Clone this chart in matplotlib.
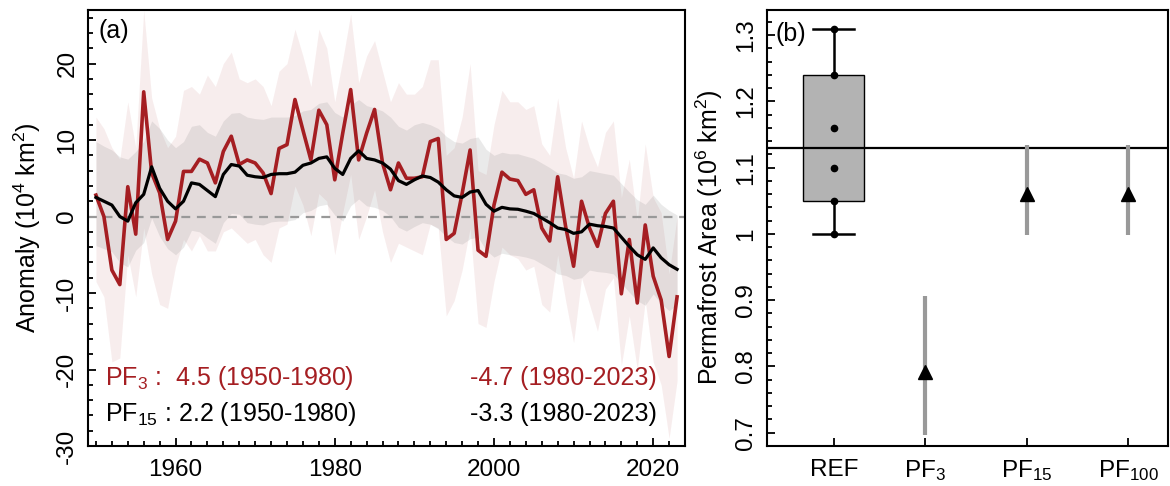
"""Permafrost area anomaly (a) and permafrost area comparison (b)"""
import numpy as np
import matplotlib
matplotlib.use('Agg')
import matplotlib.pyplot as plt
from matplotlib.ticker import MultipleLocator, FormatStrFormatter

plt.rcParams['font.family'] = ['Liberation Sans', 'DejaVu Sans']
plt.rcParams['mathtext.fontset'] = 'custom'
plt.rcParams['mathtext.rm'] = 'Liberation Sans'
plt.rcParams['mathtext.it'] = 'Liberation Sans:italic'
plt.rcParams['mathtext.bf'] = 'Liberation Sans:bold'
plt.rcParams['axes.unicode_minus'] = False

# ---- panel (a) data, 1950-2023 ----
years = np.arange(1950, 2024)

pf3 = [2.8, 0.0, -7.0, -8.9, 3.9, -2.3, 16.3, 5.7, 3.1, -3.0,
       -0.6, 5.9, 5.9, 7.5, 7.0, 4.4, 8.5, 10.5, 6.8, 7.4,
       7.0, 5.7, 3.0, 8.9, 9.4, 15.3, 11.3, 7.4, 13.9, 12.0,
       4.8, 10.9, 16.6, 7.4, 10.9, 14.0, 7.0, 3.5, 7.0, 5.0,
       5.0, 5.2, 9.8, 10.2, -3.0, -2.2, 3.0, 8.7, -4.4, -5.2,
       1.5, 5.8, 4.9, 4.7, 2.9, 3.5, -1.5, -3.2, 5.2, -1.3,
       -6.5, 2.0, -1.5, -3.9, 0.4, 2.0, -10.1, -3.0, -11.3, -1.1,
       -7.8, -10.9, -18.3, -10.5]

pf3_hi = [13.0, 11.5, 9.0, 7.5, 15.0, 9.0, 27.0, 15.5, 11.5, 9.0,
          10.5, 16.5, 17.0, 16.0, 18.5, 17.0, 20.0, 21.5, 18.0, 17.5,
          18.0, 17.0, 14.5, 19.0, 20.0, 24.5, 21.0, 17.0, 24.5, 22.0,
          15.0, 20.5, 26.5, 17.5, 21.0, 23.0, 19.0, 15.0, 17.5, 16.0,
          16.0, 17.0, 20.5, 20.5, 8.0, 9.0, 13.0, 20.0, 6.0, 5.5,
          12.0, 16.5, 15.0, 15.0, 14.0, 14.5, 9.5, 8.0, 15.5, 9.0,
          5.0, 12.5, 9.0, 6.5, 11.0, 12.5, 2.5, 7.5, -0.5, 9.5,
          2.5, 0.5, -7.5, 0.0]

pf3_lo = [-8.5, -10.5, -19.0, -18.5, -5.0, -10.5, -1.5, -7.5, -11.5, -12.0,
          -6.5, -3.0, -4.5, -2.5, -4.5, -4.5, -2.0, -1.5, -2.5, -3.5,
          -3.0, -5.0, -6.0, -1.5, -1.0, 4.0, 1.5, -2.5, 3.0, 2.0,
          -5.0, 0.5, 5.5, -3.0, 0.0, 3.5, -2.0, -6.0, -3.5, -4.0,
          -4.5, -5.0, -1.0, -1.5, -13.0, -11.0, -7.0, -1.5, -14.0, -14.5,
          -8.5, -4.0, -5.0, -5.5, -7.0, -6.5, -11.5, -12.5, -5.0, -11.0,
          -16.5, -8.0, -11.5, -15.0, -9.5, -8.0, -19.5, -13.0, -20.0, -11.0,
          -19.0, -22.0, -29.0, -21.5]

pf15 = [2.5, 2.0, 1.5, 0.0, -0.6, 1.8, 2.9, 6.5, 3.7, 2.0,
        1.0, 2.0, 4.4, 4.2, 3.4, 2.6, 5.5, 6.8, 6.6, 5.4,
        5.2, 5.1, 5.5, 5.6, 5.6, 5.8, 6.7, 7.0, 7.6, 7.8,
        6.3, 5.5, 7.6, 8.6, 7.6, 7.4, 7.0, 6.2, 4.7, 4.2,
        4.8, 5.3, 5.1, 4.5, 3.5, 2.7, 2.5, 3.2, 3.4, 1.6,
        0.7, 1.2, 1.0, 0.95, 0.7, 0.4, -0.2, -0.8, -1.5, -1.7,
        -2.2, -2.0, -1.0, -1.2, -1.3, -1.5, -2.7, -3.9, -5.0, -5.6,
        -4.1, -5.4, -6.3, -6.9]

pf15_hi = [9.8, 9.2, 8.7, 7.8, 7.5, 8.5, 9.8, 12.5, 11.5, 10.0,
           9.0, 9.8, 11.8, 12.0, 11.0, 10.5, 12.5, 13.5, 13.6, 13.0,
           12.8, 12.7, 13.0, 13.0, 13.0, 13.2, 13.8, 14.0, 14.8, 15.0,
           13.6, 13.0, 14.6, 15.3, 14.5, 14.2, 13.8, 13.0, 11.8, 11.3,
           12.0, 12.3, 12.0, 11.5, 10.5, 9.8, 9.6, 10.2, 10.4, 8.8,
           8.0, 8.4, 8.2, 8.2, 7.9, 7.6, 7.0, 6.4, 5.7, 5.5,
           5.0, 5.2, 6.0, 5.8, 5.6, 5.4, 4.3, 3.2, 2.2, 1.6,
           2.8, 1.6, 0.8, 0.2]

pf15_lo = [-3.8, -4.2, -4.6, -6.0, -6.6, -4.4, -3.4, -0.2, -2.6, -4.2,
           -5.0, -4.0, -1.8, -2.0, -2.8, -3.5, -0.8, 0.4, 0.3, -0.8,
           -1.0, -1.1, -0.7, -0.6, -0.6, -0.4, 0.5, 0.8, 1.4, 1.6,
           0.2, -0.6, 1.4, 2.3, 1.4, 1.2, 0.8, 0.0, -1.4, -1.9,
           -1.3, -0.8, -1.0, -1.6, -2.6, -3.4, -3.6, -2.9, -2.7, -4.4,
           -5.3, -4.8, -5.0, -5.1, -5.3, -5.6, -6.2, -6.8, -7.5, -7.7,
           -8.2, -8.0, -7.0, -7.2, -7.3, -7.5, -8.7, -9.9, -11.0, -11.6,
           -10.1, -11.4, -12.3, -11.5]

# ---- panel (b) data ----
ref_vals = [1.00, 1.05, 1.10, 1.16, 1.24, 1.31]
pf_names = ['PF$_3$', 'PF$_{15}$', 'PF$_{100}$']
pf_mid = [0.792, 1.061, 1.061]
pf_lo = [0.697, 0.998, 0.998]
pf_hi = [0.906, 1.134, 1.134]

RED = '#a51e22'
FS = 18
TICK_FS = 17.5

fig = plt.figure(figsize=(11.7, 4.86), dpi=100)
ax1 = fig.add_axes([0.0752, 0.0823, 0.5103, 0.8971])
ax2 = fig.add_axes([0.6553, 0.0823, 0.3430, 0.8971])

# ---- (a) ----
ax1.fill_between(years, pf3_lo, pf3_hi, color=RED, alpha=0.08, lw=0)
ax1.fill_between(years, pf15_lo, pf15_hi, color='0.35', alpha=0.12, lw=0)
ax1.axhline(0, color='0.6', lw=1.6, ls=(0, (4, 3)))
ax1.plot(years, pf3, color=RED, lw=2.6)
ax1.plot(years, pf15, color='k', lw=2.3)

ax1.set_xlim(1949, 2024)
ax1.set_ylim(-30, 27)
ax1.set_xticks([1960, 1980, 2000, 2020])
ax1.xaxis.set_minor_locator(MultipleLocator(2))
ax1.set_yticks([-30, -20, -10, 0, 10, 20])
ax1.yaxis.set_minor_locator(MultipleLocator(2))
ax1.set_ylabel('Anomaly (10$^4$ km$^2$)', fontsize=FS)
ax1.yaxis.set_label_coords(-0.076, 0.5)

ax1.text(1951.2, -22.0, 'PF$_3$ :  4.5 (1950-1980)', color=RED, fontsize=FS, va='baseline')
ax1.text(2020.5, -22.0, '-4.7 (1980-2023)', color=RED, fontsize=FS, va='baseline', ha='right')
ax1.text(1951.2, -26.7, 'PF$_{15}$ : 2.2 (1950-1980)', color='k', fontsize=FS, va='baseline')
ax1.text(2020.5, -26.7, '-3.3 (1980-2023)', color='k', fontsize=FS, va='baseline', ha='right')
ax1.text(0.017, 0.952, '(a)', transform=ax1.transAxes, fontsize=FS, va='center')

# ---- (b) ----
ref_x = 1.1
pf_x = [2, 3, 4]
stats = [dict(med=np.median(ref_vals),
              q1=np.percentile(ref_vals, 25, method='hazen'),
              q3=np.percentile(ref_vals, 75, method='hazen'),
              whislo=min(ref_vals), whishi=max(ref_vals), fliers=[])]
ax2.bxp(stats, positions=[ref_x], widths=0.6, capwidths=0.4, patch_artist=True,
        showfliers=False,
        boxprops=dict(facecolor='#b3b3b3', edgecolor='k', lw=1.0),
        whiskerprops=dict(color='k', lw=1.8),
        capprops=dict(color='k', lw=1.8),
        medianprops=dict(lw=0))
ax2.axhline(np.median(ref_vals), color='k', lw=1.6)
ax2.plot([ref_x] * len(ref_vals), ref_vals, 'o', color='k', ms=4.5)
ax2.vlines(pf_x, pf_lo, pf_hi, color='0.6', lw=3)
ax2.plot(pf_x, pf_mid, '^', color='k', ms=10)

ax2.set_xlim(0.44, 4.39)
ax2.set_ylim(0.68, 1.338)
ax2.set_xticks([ref_x] + pf_x)
ax2.set_xticklabels(['REF'] + pf_names)
ax2.set_yticks([0.7, 0.8, 0.9, 1.0, 1.1, 1.2, 1.3])
ax2.yaxis.set_major_formatter(FormatStrFormatter('%g'))
ax2.yaxis.set_minor_locator(MultipleLocator(0.02))
ax2.set_ylabel('Permafrost Area (10$^6$ km$^2$)', fontsize=FS)
ax2.yaxis.set_label_coords(-0.104, 0.48)
ax2.text(0.021, 0.945, '(b)', transform=ax2.transAxes, fontsize=FS, va='center')

for ax in (ax1, ax2):
    for s in ax.spines.values():
        s.set_linewidth(1.5)
    ax.tick_params(which='both', direction='in', top=False, right=False, width=1.3,
                   labelsize=TICK_FS)
    ax.tick_params(which='major', length=6)
    ax.tick_params(which='minor', length=3.5)
    ax.tick_params(axis='x', pad=9)
    ax.tick_params(axis='y', pad=7)
    plt.setp(ax.get_yticklabels(), rotation=90, va='center', ha='right')
ax2.tick_params(axis='x', which='minor', bottom=False)

fig.savefig('out.png', dpi=100)
